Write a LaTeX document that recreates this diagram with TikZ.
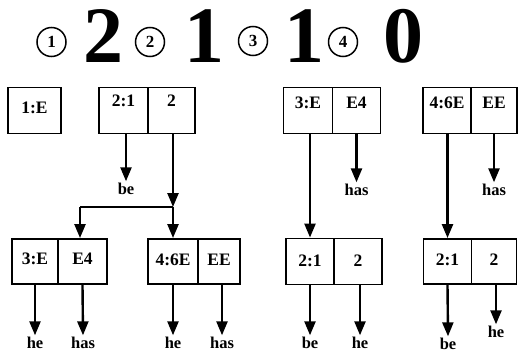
\documentclass[tikz,border=0pt]{standalone}
\usepackage{fontspec}
\setmainfont{Liberation Serif}
\usetikzlibrary{arrows.meta}
\begin{document}
\begin{tikzpicture}[x=1pt,y=-1pt,
  cell/.style={draw,line width=1.9pt,minimum height=46pt,inner sep=0pt,
    font=\fontsize{17.5}{17.5}\selectfont\bfseries,text height=12pt},
  lbl/.style={font=\fontsize{16.5}{16.5}\selectfont\bfseries,inner sep=2pt,text height=11pt,text depth=0pt},
  arr/.style={line width=2.4pt,-{Triangle[length=14pt,width=11pt]}},
  plain/.style={line width=2.2pt},
  circ/.style={circle,draw,line width=1.5pt,minimum size=29pt,inner sep=0pt,
    font=\fontsize{17}{17}\selectfont\bfseries},
  big/.style={font=\fontsize{80}{80}\selectfont\bfseries,inner sep=0pt,anchor=base}]
\useasboundingbox (0,0) rectangle (518,353);
% top numbers
\node[circ] (c1) at (51.5,42) {1};
\node[big] (n1) at (103,63) {2};
\node[circ] (c2) at (150,42) {2};
\node[big] (n2) at (204,63) {1};
\node[circ] (c3) at (253,41) {3};
\node[big] (n3) at (304,63) {1};
\node[circ] (c4) at (343,42) {4};
\node[big] (n4) at (403,63) {0};
% top row cells
\node[cell,minimum width=53pt,text depth=7pt] (a1) at (34.5,110.5) {1:E};
\node[cell,minimum width=49pt,text depth=21pt] (a2L) at (123.5,110.5) {2:1};
\node[cell,minimum width=47pt,text depth=21pt] (a2R) at (171.5,110.5) {2};
\node[cell,minimum width=49pt,text depth=17pt] (a3L) at (308,110.5) {3:E};
\node[cell,minimum width=48pt,text depth=17pt] (a3R) at (356.5,110.5) {E4};
\node[cell,minimum width=48pt,text depth=17pt] (a4L) at (447,110.5) {4:6E};
\node[cell,minimum width=46pt,text depth=17pt] (a4R) at (494,110.5) {EE};
% bottom row cells
\node[cell,minimum width=46pt,minimum height=45pt,text depth=7pt] (b3L) at (35,261.5) {3:E};
\node[cell,minimum width=49pt,minimum height=45pt,text depth=7pt] (b3R) at (82.5,261.5) {E4};
\node[cell,minimum width=50pt,minimum height=45pt,text depth=5pt] (b4L) at (173,261.5) {4:6E};
\node[cell,minimum width=42pt,minimum height=45pt,text depth=5pt] (b4R) at (219,261.5) {EE};
\node[cell,minimum width=48pt,minimum height=46pt,text depth=3pt] (b2aL) at (310,261.5) {2:1};
\node[cell,minimum width=48pt,minimum height=46pt,text depth=3pt] (b2aR) at (358,261.5) {2};
\node[cell,minimum width=48pt,minimum height=45pt,text depth=5pt] (b2bL) at (447.5,261.5) {2:1};
\node[cell,minimum width=45pt,minimum height=45pt,text depth=5pt] (b2bR) at (494,261.5) {2};
% labels
\node[lbl] (l1) at (126,189) {be};
\node[lbl] (l2) at (356.5,190) {has};
\node[lbl] (l3) at (494,190) {has};
\node[lbl] (m1) at (35,343) {he};
\node[lbl] (m2) at (83,343) {has};
\node[lbl] (m3) at (173,343) {he};
\node[lbl] (m4) at (222,343) {has};
\node[lbl] (m5) at (310,343) {be};
\node[lbl] (m6) at (360,343) {he};
\node[lbl] (m7) at (448,344) {be};
\node[lbl] (m8) at (496,332) {he};
% junction
\coordinate (j) at (173,207);
\coordinate (jl) at (80,207);
% connectors
\draw[arr] (a2L.south -| l1) -- (l1.north);
\draw[arr] (a2R.south -| j) -- (j);
\draw[plain] (j) -- (jl);
\draw[arr] (jl) -- (jl |- b3R.north);
\draw[arr] (j) -- (b4L.north);
\draw[arr] (a3R.south) -- (l2.north);
\draw[arr] (a4R.south) -- (l3.north);
\draw[arr] (a3L.south -| b2aL) -- (b2aL.north);
\draw[arr] (a4L.south -| b2bL) -- (b2bL.north);
\draw[arr] (b3L.south) -- (m1.north);
\draw[arr] (b3R.south) -- (m2.north);
\draw[arr] (b4L.south) -- (m3.north);
\draw[arr] (b4R.south -| m4) -- (m4.north);
\draw[arr] (b2aL.south) -- (m5.north);
\draw[arr] (b2aR.south -| m6) -- (m6.north);
\draw[arr] (b2bL.south) -- (m7.north);
\draw[arr] (b2bR.south -| m8) -- (m8.north);
\end{tikzpicture}
\end{document}
